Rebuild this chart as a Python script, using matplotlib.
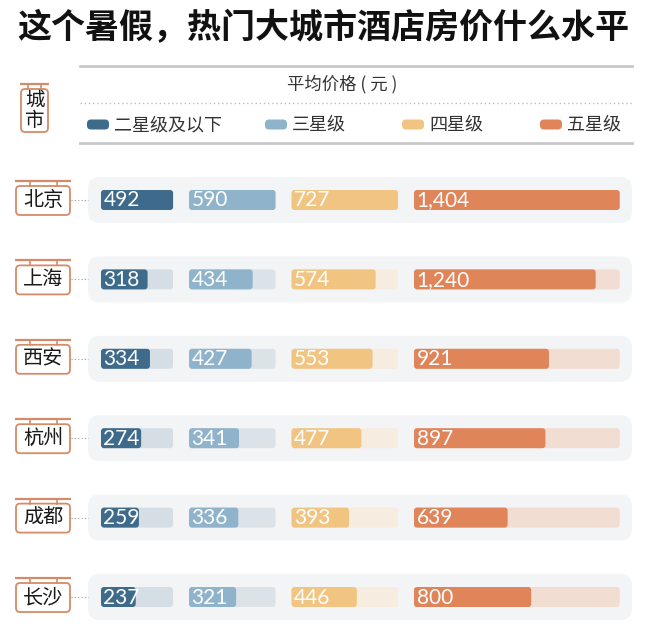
import matplotlib
matplotlib.use("Agg")
import matplotlib.pyplot as plt
from matplotlib.patches import FancyBboxPatch
import numpy as np

plt.rcParams['font.family'] = ['Noto Sans CJK SC', 'DejaVu Sans']

# data
cities = ["北京", "上海", "西安", "杭州", "成都", "长沙"]
levels = ["二星级及以下", "三星级", "四星级", "五星级"]
two_star = [492, 318, 334, 274, 259, 237]
three_star = [590, 434, 427, 341, 336, 321]
four_star = [727, 574, 553, 477, 393, 446]
five_star = [1404, 1240, 921, 897, 639, 800]
series = [two_star, three_star, four_star, five_star]

bar_colors = ["#3e6a8c", "#8fb3ca", "#f2c482", "#e0845a"]
track_colors = ["#d6dee5", "#dbe3e9", "#f6ecdf", "#f1ddd2"]
sign_edge = "#d68b68"

W, H = 647, 624
fig = plt.figure(figsize=(W / 100, H / 100), dpi=100)
ax = fig.add_axes([0, 0, 1, 1])
ax.set_xlim(0, W)
ax.set_ylim(H, 0)
ax.axis("off")

# layout (pixels)
px_per_yuan = 0.1465
gap = 16
x0 = 101
row_y0 = 200
row_step = 79.4
bar_h = 20

maxes = [max(s) for s in series]
starts = [x0]
for m in maxes[:-1]:
    starts.append(starts[-1] + m * px_per_yuan + gap)


def rbox(x, y, w, h, r, **kw):
    p = FancyBboxPatch((x, y), w, h, boxstyle=f"round,pad=0,rounding_size={r}",
                       mutation_aspect=1, **kw)
    ax.add_patch(p)
    return p


def sign(x, y, w, h, text, fs):
    # hanging signboard: bar on top, two posts, box with text
    ax.plot([x - 1, x + w + 1], [y - 5, y - 5], color=sign_edge, lw=1.6,
            solid_capstyle="butt")
    for px in (x + w * 0.25, x + w * 0.75):
        ax.plot([px, px], [y - 5, y], color=sign_edge, lw=1.2)
    rbox(x, y, w, h, 4, facecolor="white", edgecolor=sign_edge, lw=1.3)
    ax.text(x + w / 2, y + h / 2, text, ha="center", va="center",
            fontsize=fs, color="#1a1a1a", linespacing=1.0, fontweight="medium")


# title
ax.text(W / 2, 28, "这个暑假，热门大城市酒店房价什么水平", ha="center", va="center",
        fontsize=24.5, fontweight="heavy", color="#111111")

# header
ax.plot([80, 632], [66, 66], color="#c9c9c9", lw=2)
ax.plot([80, 632], [103, 103], color="#bdbdbd", lw=1, ls=(0, (1, 2)))
ax.plot([80, 632], [143, 143], color="#c9c9c9", lw=2)
ax.text(342, 84, "平均价格 ( 元 )", ha="center", va="center", fontsize=12.5,
        color="#333333")

legend_x = [87, 265, 402, 540]
for lx, lab, col in zip(legend_x, levels, bar_colors):
    rbox(lx, 119.5, 22, 10, 4, facecolor=col, edgecolor="none")
    ax.text(lx + 27, 125, lab, ha="left", va="center", fontsize=13, color="#333333")

sign(21, 89, 27, 43, "城\n市", 14)

# rows
for i, city in enumerate(cities):
    yc = row_y0 + i * row_step
    rbox(88, yc - 23, 544, 46, 12, facecolor="#f3f4f6", edgecolor="none")
    sign(16, yc - 14, 54, 29, city, 14.5)
    ax.plot([71, 88], [yc, yc], color="#9a9a9a", lw=0.8, ls=(0, (1, 2)))
    for k, s in enumerate(series):
        sx = starts[k]
        rbox(sx, yc - bar_h / 2, maxes[k] * px_per_yuan, bar_h, 3,
             facecolor=track_colors[k], edgecolor="none")
        rbox(sx, yc - bar_h / 2, s[i] * px_per_yuan, bar_h, 3,
             facecolor=bar_colors[k], edgecolor="none")
        ax.text(sx + 2.5, yc + 0.5, f"{s[i]:,}", ha="left", va="center",
                fontsize=15, color="white", family="Lato")

fig.savefig("out.png", dpi=100)
